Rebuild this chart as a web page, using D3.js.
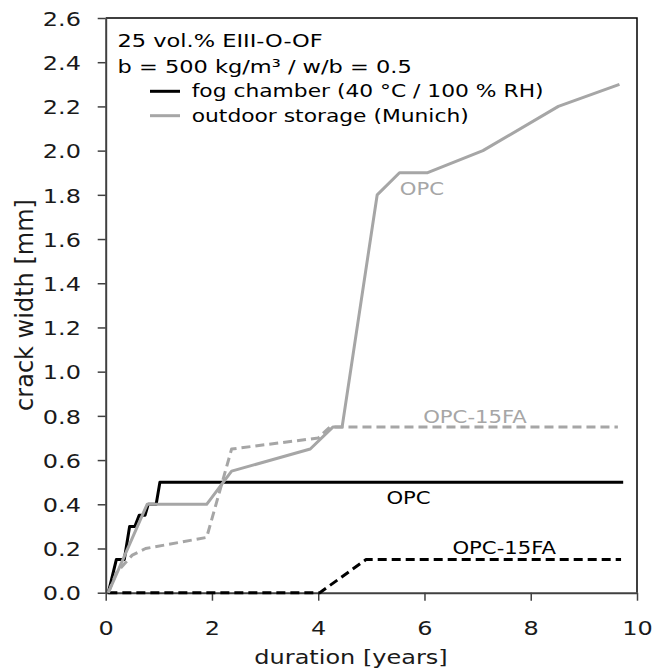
<!DOCTYPE html>
<html>
<head>
<meta charset="utf-8">
<script src="https://cdn.jsdelivr.net/npm/d3@7"></script>
<style>
  body { margin: 0; background: #fff; }
  svg { display: block; font-family: "DejaVu Sans", Verdana, sans-serif; }
</style>
</head>
<body>
<svg id="chart" width="667" height="671"></svg>
<script>
// crack width [mm] over duration [years]
var fogOPC = [[0.05, 0], [0.2, 0.15], [0.35, 0.15], [0.45, 0.3], [0.55, 0.3], [0.63, 0.35],
              [0.74, 0.35], [0.8, 0.4], [0.95, 0.4], [1.02, 0.5], [9.74, 0.5]];
var fogOPC15FA = [[0.05, 0], [4.03, 0], [4.9, 0.15], [9.7, 0.15]];
var outdoorOPC = [[0.05, 0], [0.78, 0.4], [1.9, 0.4], [2.37, 0.55], [3.85, 0.65], [4.28, 0.75],
                  [4.45, 0.75], [5.11, 1.8], [5.53, 1.9], [6.06, 1.9], [7.1, 2.0], [8.52, 2.2], [9.67, 2.3]];
var outdoorOPC15FA = [[0.05, 0], [0.2, 0.09], [0.5, 0.17], [0.75, 0.2], [1.9, 0.25], [2.37, 0.65],
                      [4.0, 0.7], [4.22, 0.75], [9.64, 0.75]];

var xTicks = [0, 2, 4, 6, 8, 10];
var yTicks = [0, 0.2, 0.4, 0.6, 0.8, 1.0, 1.2, 1.4, 1.6, 1.8, 2.0, 2.2, 2.4, 2.6];

var legendTitle = ["25 vol.% EIII-O-OF", "b = 500 kg/m\u00b3 / w/b = 0.5"];
var legendItems = [
    {label: "fog chamber (40 \u00b0C / 100 % RH)", color: "#000"},
    {label: "outdoor storage (Munich)", color: "#a6a6a6"}
];

var series = [
    {data: fogOPC, color: "#000", dash: null, label: "OPC", at: [5.7, 0.4]},
    {data: fogOPC15FA, color: "#000", dash: "9,5", label: "OPC-15FA", at: [7.5, 0.177]},
    {data: outdoorOPC15FA, color: "#a6a6a6", dash: "9,5", label: "OPC-15FA", at: [6.95, 0.77]},
    {data: outdoorOPC, color: "#a6a6a6", dash: null, label: "OPC", at: [5.95, 1.8]}
];

var svg = d3.select("#chart");
var margin = {top: 18, left: 105.7, right: 30, bottom: 78.3};
var w = 667 - margin.left - margin.right,
    h = 671 - margin.top - margin.bottom;

// text in the picture is squashed vertically
var squash = 0.83;

var xScale = d3.scaleLinear().domain([0, 10]).range([0, w]);
var yScale = d3.scaleLinear().domain([0, 2.6]).range([h, 0]);

function flatText(parent, x, y, size, sy) {
    return parent.append("text")
        .attr("transform", "translate(" + x + "," + y + ") scale(1," + sy + ")")
        .attr("font-size", size);
}

var g = svg.append("g")
           .attr("transform", "translate(" + margin.left + "," + margin.top + ")");

// frame top / right
g.append("path")
    .attr("d", "M0,0H" + w + "V" + h)
    .attr("fill", "none")
    .attr("stroke", "#000")
    .attr("stroke-width", 1.5);

var xAxis = g.append("g")
    .attr("transform", "translate(0," + h + ")")
    .call(d3.axisBottom(xScale).tickValues(xTicks).tickSize(8).tickSizeOuter(0).tickFormat(d3.format("d")));

var yAxis = g.append("g")
    .call(d3.axisLeft(yScale).tickValues(yTicks).tickSize(8).tickSizeOuter(0).tickFormat(d3.format(".1f")));

[xAxis, yAxis].forEach(function(ax) {
    ax.select(".domain").attr("stroke", "#404040").attr("stroke-width", 2);
    ax.selectAll(".tick line").attr("stroke", "#404040").attr("stroke-width", 1.5);
    ax.selectAll(".tick text")
        .attr("font-family", "DejaVu Sans, Verdana, sans-serif")
        .attr("font-size", 24)
        .attr("fill", "#1a1a1a");
});
xAxis.selectAll(".tick text")
    .attr("y", 0).attr("dy", null)
    .attr("transform", "translate(0,42) scale(1," + squash + ")");
yAxis.selectAll(".tick text")
    .attr("x", 0).attr("dy", "0.365em")
    .attr("transform", "translate(-24.7,0) scale(1," + squash + ")");

flatText(svg, 351, 664, 24, squash)
    .attr("text-anchor", "middle")
    .attr("fill", "#1a1a1a")
    .text("duration [years]");

svg.append("text")
    .attr("transform", "translate(33,305) rotate(-90)")
    .attr("text-anchor", "middle")
    .attr("font-size", 24)
    .attr("fill", "#1a1a1a")
    .text("crack width [mm]");

// data lines
var line = d3.line()
    .x(function(d) { return xScale(d[0]); })
    .y(function(d) { return yScale(d[1]); });

series.forEach(function(s) {
    g.append("path")
        .datum(s.data)
        .attr("d", line)
        .attr("fill", "none")
        .attr("stroke", s.color)
        .attr("stroke-width", 3)
        .attr("stroke-linejoin", "round")
        .attr("stroke-dasharray", s.dash);

    flatText(g, xScale(s.at[0]), yScale(s.at[1]), 21.2, squash)
        .attr("text-anchor", "middle")
        .attr("fill", s.color)
        .text(s.label);
});

// legend
var leg = svg.append("g").attr("fill", "#000");
legendTitle.forEach(function(t, i) {
    flatText(leg, 117.5, 46.7 + i * 26.6, 22.5, 0.8).text(t);
});
legendItems.forEach(function(item, i) {
    var y = 97.3 + i * 24.4;
    leg.append("line")
        .attr("x1", 150).attr("x2", 180)
        .attr("y1", y - 6).attr("y2", y - 6)
        .attr("stroke", item.color)
        .attr("stroke-width", 3);
    flatText(leg, 191.7, y, 21.8, 0.82).text(item.label);
});
</script>
</body>
</html>
